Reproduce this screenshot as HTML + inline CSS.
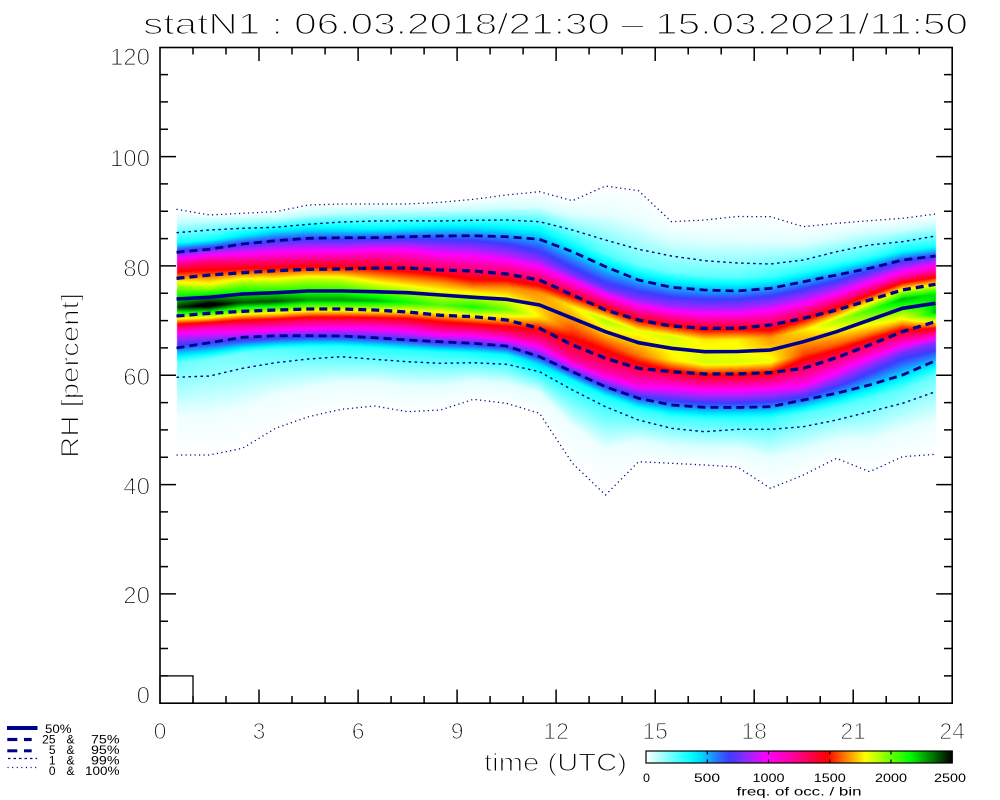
<!DOCTYPE html>
<html>
<head>
<meta charset="utf-8">
<style>
html,body{margin:0;padding:0;background:#fff;}
#wrap{position:relative;width:1000px;height:800px;overflow:hidden;background:#fff;}
#hm{position:absolute;left:0;top:0;}
#sv{position:absolute;left:0;top:0;}
text{font-family:"Liberation Sans",sans-serif;fill:#000;}
.thin{stroke:#fff;stroke-width:1.3px;paint-order:fill stroke;}
.thin2{stroke:#fff;stroke-width:1.1px;paint-order:fill stroke;}
</style>
</head>
<body>
<div id="wrap">
<canvas id="hm" width="1000" height="800"></canvas>
<svg id="sv" width="1000" height="800" viewBox="0 0 1000 800" xmlns="http://www.w3.org/2000/svg">
<defs>
<linearGradient id="cb" x1="0" y1="0" x2="1" y2="0">
<stop offset="0" stop-color="#ffffff"/>
<stop offset="0.148" stop-color="#00ffff"/>
<stop offset="0.184" stop-color="rgb(0,210,255)"/>
<stop offset="0.232" stop-color="rgb(40,120,255)"/>
<stop offset="0.272" stop-color="rgb(60,60,255)"/>
<stop offset="0.332" stop-color="rgb(150,40,255)"/>
<stop offset="0.396" stop-color="#ff00ff"/>
<stop offset="0.492" stop-color="rgb(255,0,140)"/>
<stop offset="0.592" stop-color="#ff0000"/>
<stop offset="0.652" stop-color="rgb(255,128,0)"/>
<stop offset="0.716" stop-color="#ffff00"/>
<stop offset="0.86" stop-color="#00ff00"/>
<stop offset="1" stop-color="#000000"/>
</linearGradient>
</defs>

<!-- percentile lines -->
<g fill="none" stroke="#00008b">
<polyline id="l100" stroke-width="1.3" stroke-dasharray="1.2 3.3" points="176.5,209.3 209.5,215 242.5,213.3 275.5,211.7 308.5,205 341.5,204 374.5,204 407.5,204 440.5,202.3 473.5,199.3 506.5,195 539.5,191.7 572.5,200.7 605.5,186 638.5,190.7 671.5,221.7 704.5,220 737.5,216.5 770.5,216.7 803.5,226.7 836.5,223.3 869.5,220.7 902.5,218.3 935.5,214"/>
<polyline id="l0" stroke-width="1.3" stroke-dasharray="1.2 3.3" points="176.5,455 209.5,455 242.5,448.3 275.5,428.3 308.5,416.7 341.5,409.3 374.5,406 407.5,411.7 440.5,410 473.5,399.3 506.5,403.3 539.5,413.3 572.5,463.3 605.5,495 638.5,461.7 671.5,463.3 704.5,465 737.5,467 770.5,488.3 803.5,475 836.5,458.3 869.5,471.7 902.5,456.7 935.5,454.3"/>
<polyline id="l99" stroke-width="1.4" stroke-dasharray="2.5 3.5" points="176.5,232.7 209.5,230 242.5,228.3 275.5,227.3 308.5,224.3 341.5,222 374.5,221 407.5,220.7 440.5,221 473.5,220.3 506.5,220 539.5,221.7 572.5,230 605.5,240 638.5,249.3 671.5,256 704.5,260.7 737.5,263 770.5,264 803.5,260 836.5,251.7 869.5,245 902.5,241.7 935.5,236"/>
<polyline id="l1" stroke-width="1.4" stroke-dasharray="2.5 3.5" points="176.5,377.3 209.5,376 242.5,368.3 275.5,362.7 308.5,359 341.5,356.7 374.5,359.3 407.5,361.7 440.5,363.3 473.5,362.7 506.5,364.3 539.5,371.7 572.5,390 605.5,406.7 638.5,420 671.5,428.3 704.5,431.7 737.5,429.3 770.5,429.3 803.5,426.7 836.5,420 869.5,411.7 902.5,403.3 935.5,391.7"/>
<polyline id="l95" stroke-width="2.8" stroke-dasharray="8 5" points="176.5,252.3 209.5,249.3 242.5,244 275.5,240.7 308.5,238.3 341.5,237.7 374.5,237.7 407.5,236.7 440.5,236 473.5,235.7 506.5,236.7 539.5,239.3 572.5,251.7 605.5,266.7 638.5,280 671.5,287.3 704.5,290 737.5,291 770.5,288.3 803.5,281.7 836.5,275 869.5,268.3 902.5,260 935.5,256"/>
<polyline id="l5" stroke-width="2.8" stroke-dasharray="8 5" points="176.5,348 209.5,342.7 242.5,337.3 275.5,335.7 308.5,335.7 341.5,336 374.5,337.7 407.5,340 440.5,341.7 473.5,343.3 506.5,346 539.5,356.7 572.5,371.7 605.5,386.7 638.5,398.3 671.5,405 704.5,407.3 737.5,407.5 770.5,406.7 803.5,400 836.5,393.3 869.5,385 902.5,375 935.5,360.7"/>
<polyline id="l75" stroke-width="3.3" stroke-dasharray="8 5" points="176.5,278.3 209.5,275 242.5,272.7 275.5,270.7 308.5,269.3 341.5,269 374.5,268 407.5,268 440.5,270 473.5,271 506.5,274 539.5,280 572.5,295 605.5,310 638.5,320 671.5,326 704.5,328.3 737.5,328.3 770.5,325 803.5,318.3 836.5,310 869.5,300 902.5,290 935.5,284.3"/>
<polyline id="l25" stroke-width="3.3" stroke-dasharray="8 5" points="176.5,316 209.5,313.3 242.5,311.3 275.5,310 308.5,309 341.5,309 374.5,310 407.5,312 440.5,315.3 473.5,316.7 506.5,320 539.5,328.3 572.5,345 605.5,358.3 638.5,368.3 671.5,371.7 704.5,374 737.5,374 770.5,372.7 803.5,368.3 836.5,357.7 869.5,345 902.5,331.7 935.5,321.7"/>
<polyline id="l50" stroke-width="3.6" points="176.5,299 209.5,297.3 242.5,294 275.5,292.7 308.5,291 341.5,291 374.5,291.7 407.5,292.7 440.5,295 473.5,297.3 506.5,299.3 539.5,305 572.5,318.3 605.5,331.7 638.5,342.7 671.5,348.3 704.5,351.7 737.5,351.5 770.5,350 803.5,341.7 836.5,331.7 869.5,320 902.5,308.3 935.5,303.3"/>
</g>

<!-- axes -->
<rect x="160" y="47.5" width="792.2" height="655.7" fill="none" stroke="#000" stroke-width="1.6"/>
<rect x="160" y="675.9" width="33" height="27.3" fill="none" stroke="#000" stroke-width="1.3"/>
<path fill="none" stroke="#000" stroke-width="1.5" d="
M259 703V689.5 M358.1 703V689.5 M457.1 703V689.5 M556.1 703V689.5 M655.2 703V689.5 M754.2 703V689.5 M853.2 703V689.5
M193 703V696 M226 703V696 M292 703V696 M325.1 703V696 M391.1 703V696 M424.1 703V696 M490.1 703V696 M523.1 703V696 M589.1 703V696 M622.1 703V696 M688.2 703V696 M721.2 703V696 M787.2 703V696 M820.2 703V696 M886.2 703V696 M919.2 703V696
M259 47.5V61 M358.1 47.5V61 M457.1 47.5V61 M556.1 47.5V61 M655.2 47.5V61 M754.2 47.5V61 M853.2 47.5V61
M193 47.5V54.5 M226 47.5V54.5 M292 47.5V54.5 M325.1 47.5V54.5 M391.1 47.5V54.5 M424.1 47.5V54.5 M490.1 47.5V54.5 M523.1 47.5V54.5 M589.1 47.5V54.5 M622.1 47.5V54.5 M688.2 47.5V54.5 M721.2 47.5V54.5 M787.2 47.5V54.5 M820.2 47.5V54.5 M886.2 47.5V54.5 M919.2 47.5V54.5
M160 593.9H176 M160 484.6H176 M160 375.2H176 M160 265.9H176 M160 156.6H176
M160 675.9H168 M160 648.5H168 M160 621.2H168 M160 566.6H168 M160 539.2H168 M160 511.9H168 M160 457.2H168 M160 429.9H168 M160 402.6H168 M160 347.9H168 M160 320.6H168 M160 293.2H168 M160 238.6H168 M160 211.3H168 M160 183.9H168 M160 129.3H168 M160 101.9H168 M160 74.6H168
M952.2 593.9H936.2 M952.2 484.6H936.2 M952.2 375.2H936.2 M952.2 265.9H936.2 M952.2 156.6H936.2
M952.2 675.9H944 M952.2 648.5H944 M952.2 621.2H944 M952.2 566.6H944 M952.2 539.2H944 M952.2 511.9H944 M952.2 457.2H944 M952.2 429.9H944 M952.2 402.6H944 M952.2 347.9H944 M952.2 320.6H944 M952.2 293.2H944 M952.2 238.6H944 M952.2 211.3H944 M952.2 183.9H944 M952.2 129.3H944 M952.2 101.9H944 M952.2 74.6H944
"/>

<!-- title -->
<text class="thin" x="143" y="34" font-size="30" textLength="825" lengthAdjust="spacingAndGlyphs">statN1 : 06.03.2018/21:30 – 15.03.2021/11:50</text>

<!-- y tick labels -->
<g class="thin2" font-size="24" text-anchor="end">
<text x="150" y="65">120</text>
<text x="150" y="166.7">100</text>
<text x="150" y="276.7">80</text>
<text x="150" y="385">60</text>
<text x="150" y="494.5">40</text>
<text x="150" y="603.5">20</text>
<text x="150" y="703.3">0</text>
</g>

<!-- x tick labels -->
<g class="thin2" font-size="23" text-anchor="middle">
<text x="160" y="739">0</text>
<text x="259" y="739">3</text>
<text x="358.1" y="739">6</text>
<text x="457.1" y="739">9</text>
<text x="556.1" y="739">12</text>
<text x="655.2" y="739">15</text>
<text x="754.2" y="739">18</text>
<text x="853.2" y="739">21</text>
<text x="952.2" y="739">24</text>
</g>

<!-- axis titles -->
<text class="thin2" x="484" y="771" font-size="25" textLength="143" lengthAdjust="spacingAndGlyphs">time (UTC)</text>
<text class="thin2" transform="translate(78.3,375.5) rotate(-90)" font-size="25" text-anchor="middle" textLength="165" lengthAdjust="spacingAndGlyphs">RH [percent]</text>

<!-- colorbar -->
<rect x="646" y="751" width="306.3" height="12" fill="url(#cb)" stroke="#000" stroke-width="1.2"/>
<path stroke="#000" stroke-width="1.2" d="M707.3 751V754.5 M768.5 751V754.5 M829.8 751V754.5 M891 751V754.5 M707.3 763V759.5 M768.5 763V759.5 M829.8 763V759.5 M891 763V759.5"/>
<g font-size="12" text-anchor="middle">
<text x="646.5" y="782" textLength="7" lengthAdjust="spacingAndGlyphs">0</text>
<text x="707" y="782" textLength="26" lengthAdjust="spacingAndGlyphs">500</text>
<text x="768.5" y="782" textLength="32" lengthAdjust="spacingAndGlyphs">1000</text>
<text x="829.8" y="782" textLength="32" lengthAdjust="spacingAndGlyphs">1500</text>
<text x="891" y="782" textLength="32" lengthAdjust="spacingAndGlyphs">2000</text>
<text x="950" y="782" textLength="32" lengthAdjust="spacingAndGlyphs">2500</text>
<text x="799" y="795.5" textLength="125" lengthAdjust="spacingAndGlyphs">freq. of occ. / bin</text>
</g>

<!-- legend -->
<g stroke="#00008b" fill="none">
<line x1="7" y1="728" x2="37.5" y2="728" stroke-width="4"/>
<line x1="7.3" y1="739.5" x2="17.3" y2="739.5" stroke-width="3.2"/>
<line x1="24" y1="739.5" x2="31.7" y2="739.5" stroke-width="3.2"/>
<line x1="7.3" y1="750.8" x2="17.3" y2="750.8" stroke-width="3"/>
<line x1="24" y1="750.8" x2="31.7" y2="750.8" stroke-width="3"/>
<line x1="8" y1="758.5" x2="37" y2="758.5" stroke-width="1.2" stroke-dasharray="2.5 3"/>
<line x1="7.5" y1="767.5" x2="37" y2="767.5" stroke-width="1.2" stroke-dasharray="1.1 3.5"/>
</g>
<g font-size="12">
<text x="45" y="733" textLength="26.5" lengthAdjust="spacingAndGlyphs">50%</text>
<text x="55.5" y="743.5" text-anchor="end">25</text>
<text x="66.5" y="743.5">&amp;</text>
<text x="119.5" y="743.5" text-anchor="end" textLength="28.5" lengthAdjust="spacingAndGlyphs">75%</text>
<text x="55.5" y="754" text-anchor="end">5</text>
<text x="66.5" y="754">&amp;</text>
<text x="119.5" y="754" text-anchor="end" textLength="28.5" lengthAdjust="spacingAndGlyphs">95%</text>
<text x="55.5" y="764.5" text-anchor="end">1</text>
<text x="66.5" y="764.5">&amp;</text>
<text x="119.5" y="764.5" text-anchor="end" textLength="28.5" lengthAdjust="spacingAndGlyphs">99%</text>
<text x="55.5" y="775" text-anchor="end">0</text>
<text x="66.5" y="775">&amp;</text>
<text x="119.5" y="775" text-anchor="end" textLength="34.5" lengthAdjust="spacingAndGlyphs">100%</text>
</g>
</svg>
</div>
<script>
(function(){
function ys(id){return document.getElementById(id).getAttribute('points').trim().split(/\s+/).map(function(p){return parseFloat(p.split(',')[1]);});}
var ids=['l0','l1','l5','l25','l50','l75','l95','l99','l100'];
var L=ids.map(ys);
var Q=[0,.01,.05,.25,.5,.75,.95,.99,1];
var stops=[[0,[255,255,255]],[370,[0,255,255]],[460,[0,210,255]],[580,[40,120,255]],[680,[60,60,255]],[830,[150,40,255]],[990,[255,0,255]],[1230,[255,0,140]],[1480,[255,0,0]],[1630,[255,128,0]],[1790,[255,255,0]],[2150,[0,255,0]],[2500,[0,0,0]]];
function col(v){
  if(v<=0)return [255,255,255];
  if(v>=2500)return [0,0,0];
  for(var i=1;i<stops.length;i++){
    if(v<=stops[i][0]){var a=stops[i-1],b=stops[i];var t=(v-a[0])/(b[0]-a[0]);
      return [a[1][0]+t*(b[1][0]-a[1][0]),a[1][1]+t*(b[1][1]-a[1][1]),a[1][2]+t*(b[1][2]-a[1][2])];}
  }
  return [0,0,0];
}
var cv=document.getElementById('hm');var ctx=cv.getContext('2d');
var img=ctx.createImageData(1000,800);var D=img.data;
var G=1.0;var A=1850/Math.pow(0.0112,G);
for(var px=177;px<=935;px++){
  var h=(px+0.5-176.5)/33;var i=Math.floor(h);if(i>22)i=22;if(i<0)i=0;var f=h-i;
  var y=L.map(function(a){return a[i]*(1-f)+a[i+1]*f;});
  var nodes=[[y[0],0]];
  for(var k=0;k<8;k++){nodes.push([(y[k]+y[k+1])/2,(Q[k+1]-Q[k])/Math.max(0.5,y[k]-y[k+1])]);}
  nodes.push([y[8],0]);
  var top=Math.floor(y[8]),bot=Math.ceil(y[0]);
  for(var py=top;py<=bot;py++){
    var yc=py+0.5;var d=0;
    for(var n=0;n<nodes.length-1;n++){var a=nodes[n],b=nodes[n+1];
      if(yc<=a[0]&&yc>=b[0]){var dd=(a[0]-b[0])||1;var t=(a[0]-yc)/dd;d=a[1]+t*(b[1]-a[1]);break;}}
    var v=d>0?A*Math.pow(d,G):0;
    var c=col(v);var o=(py*1000+px)*4;
    D[o]=c[0];D[o+1]=c[1];D[o+2]=c[2];D[o+3]=255;
  }
}
ctx.putImageData(img,0,0);
})();
</script>
</body>
</html>
